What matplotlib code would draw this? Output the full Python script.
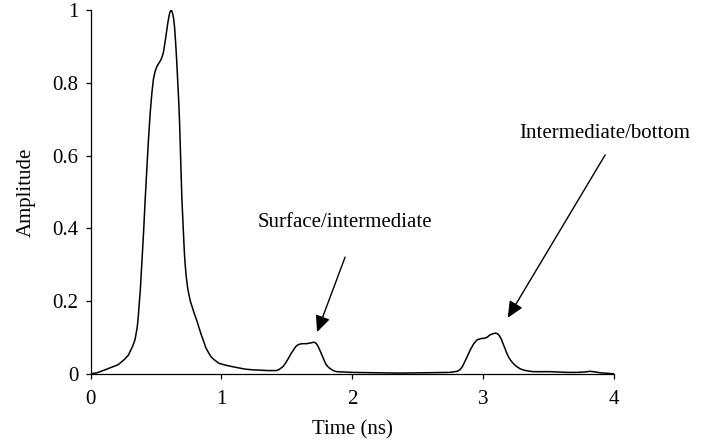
import matplotlib
matplotlib.use("Agg")
import matplotlib.pyplot as plt

plt.rcParams['font.family'] = ['Liberation Serif', 'DejaVu Serif']

time_ns = [0, 0.05, 0.11, 0.16, 0.21, 0.26, 0.29, 0.30, 0.32, 0.33, 0.34, 0.345, 0.355,
           0.36, 0.365, 0.37, 0.38, 0.39, 0.405, 0.417, 0.43, 0.442, 0.455, 0.468, 0.48,
           0.493, 0.51, 0.532, 0.545, 0.557, 0.57, 0.583, 0.59, 0.60, 0.605, 0.614, 0.62,
           0.628, 0.635, 0.642, 0.65, 0.658, 0.665, 0.673, 0.68, 0.686, 0.692, 0.698,
           0.705, 0.711, 0.717, 0.724, 0.73, 0.742, 0.75, 0.762, 0.775, 0.79, 0.81,
           0.826, 0.845, 0.865, 0.88, 0.903, 0.92, 0.94, 0.98, 1.03, 1.08, 1.18, 1.24,
           1.30, 1.36, 1.42, 1.44, 1.47, 1.49, 1.51, 1.53, 1.55, 1.565, 1.58, 1.60, 1.62,
           1.65, 1.68, 1.705, 1.72, 1.73, 1.74, 1.75, 1.765, 1.78, 1.79, 1.80, 1.82, 1.84,
           1.86, 1.88, 2.0, 2.2, 2.36, 2.55, 2.745, 2.80, 2.82, 2.84, 2.86, 2.88, 2.90,
           2.925, 2.95, 2.98, 3.01, 3.03, 3.05, 3.07, 3.095, 3.11, 3.12, 3.13, 3.14, 3.15,
           3.165, 3.175, 3.19, 3.205, 3.22, 3.235, 3.255, 3.28, 3.31, 3.34, 3.38, 3.51,
           3.64, 3.71, 3.77, 3.815, 3.86, 3.89, 4.0]
amplitude = [0, 0.003, 0.011, 0.018, 0.025, 0.040, 0.052, 0.060, 0.075, 0.084, 0.095,
             0.105, 0.125, 0.14, 0.16, 0.185, 0.23, 0.295, 0.39, 0.478, 0.565, 0.643,
             0.715, 0.771, 0.81, 0.832, 0.848, 0.86, 0.87, 0.885, 0.915, 0.948, 0.965,
             0.985, 0.993, 1.0, 0.998, 0.99, 0.975, 0.952, 0.91, 0.86, 0.81, 0.752, 0.69,
             0.615, 0.545, 0.478, 0.42, 0.375, 0.33, 0.295, 0.27, 0.235, 0.22, 0.200,
             0.185, 0.168, 0.148, 0.13, 0.108, 0.088, 0.072, 0.057, 0.047, 0.04, 0.029,
             0.024, 0.02, 0.013, 0.011, 0.01, 0.009, 0.009, 0.012, 0.02, 0.03, 0.042,
             0.055, 0.066, 0.074, 0.079, 0.082, 0.083, 0.083, 0.085, 0.087, 0.085, 0.08,
             0.074, 0.066, 0.053, 0.04, 0.032, 0.025, 0.017, 0.012, 0.008, 0.006, 0.004,
             0.003, 0.002, 0.003, 0.004, 0.007, 0.011, 0.02, 0.035, 0.05, 0.066, 0.082,
             0.093, 0.097, 0.098, 0.101, 0.107, 0.11, 0.112, 0.11, 0.106, 0.1, 0.093,
             0.083, 0.07, 0.06, 0.048, 0.039, 0.032, 0.026, 0.02, 0.014, 0.01, 0.008,
             0.006, 0.006, 0.004, 0.004, 0.005, 0.007, 0.005, 0.003, 0.0]

x_ticks = [0, 1, 2, 3, 4]
y_ticks = [0, 0.2, 0.4, 0.6, 0.8, 1]
y_tick_labels = ["0", "0.2", "0.4", "0.6", "0.8", "1"]

annotations = ["Surface/intermediate", "Intermediate/bottom"]
text_pos = [(1.944, 0.416), (3.93, 0.662)]
arrow_tail = [(1.944, 0.321), (3.93, 0.602)]
arrow_head = [(1.73, 0.115), (3.186, 0.154)]

fig = plt.figure(figsize=(7.13, 4.44), dpi=100)
ax = fig.add_axes([0.127, 0.158, 0.8616 - 0.127, 0.977 - 0.158])

ax.plot(time_ns, amplitude, color='black', linewidth=1.1, solid_joinstyle='round')

ax.set_xlim(0, 4)
ax.set_ylim(0, 1)
ax.set_xticks(x_ticks)
ax.set_xticklabels([str(v) for v in x_ticks])
ax.set_yticks(y_ticks)
ax.set_yticklabels(y_tick_labels)

for s in ['top', 'right']:
    ax.spines[s].set_visible(False)
for s in ['left', 'bottom']:
    ax.spines[s].set_linewidth(0.9)
ax.tick_params(axis='both', direction='out', length=3.5, width=0.9,
               labelsize=15, colors='black')
ax.tick_params(axis='x', pad=8)
ax.tick_params(axis='y', pad=5)

ax.set_xlabel("Time (ns)", fontsize=15, labelpad=8)
ax.set_ylabel("Amplitude", fontsize=15, labelpad=12)

for label, tp, tail, head in zip(annotations, text_pos, arrow_tail, arrow_head):
    ax.text(tp[0], tp[1], label, fontsize=15, ha='center', va='center')
    ax.annotate("", xy=head, xytext=tail,
                arrowprops=dict(arrowstyle='-|>,head_length=0.55,head_width=0.25',
                                mutation_scale=18, color='black', lw=1.0,
                                shrinkA=0, shrinkB=0))

fig.savefig("out.png", dpi=100)
